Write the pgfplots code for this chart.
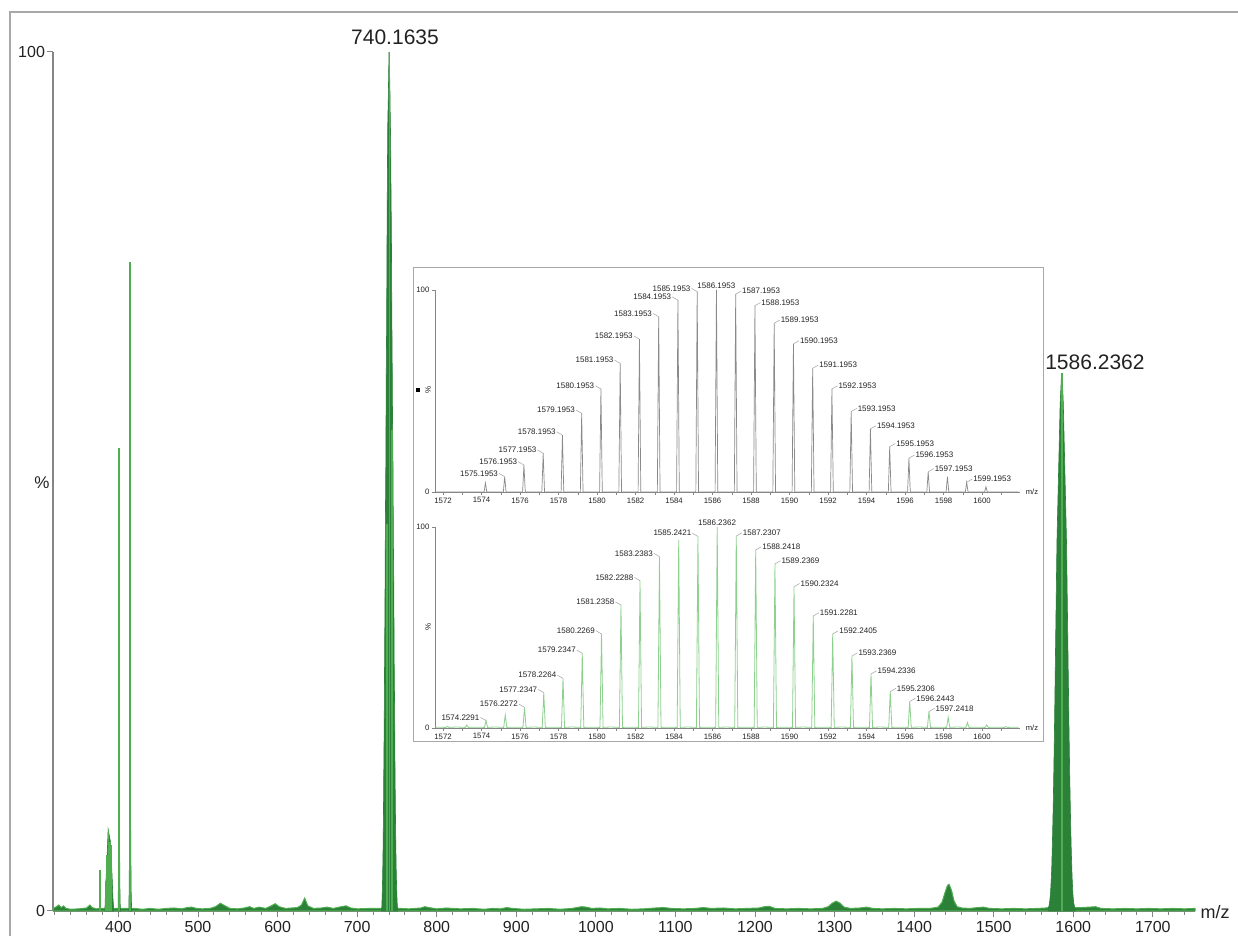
\documentclass[border=0pt]{standalone}
\usepackage{fontspec}
\setmainfont{Liberation Sans}
\usepackage{pgfplots}
\pgfplotsset{compat=1.18}
\definecolor{framec}{HTML}{A8A8A8}
\definecolor{axc}{HTML}{858585}
\definecolor{txt}{HTML}{222222}
\definecolor{dkg}{HTML}{2B8138}
\definecolor{lg}{HTML}{4FAE4F}
\definecolor{ing}{HTML}{8ED08E}
\definecolor{stk}{HTML}{8A8A8A}
\newcommand{\pkL}[3]{\draw[ldr] (axis cs:#1,#2) -- ++(-2.8pt,1.6pt) node[anchor=east,lbl]{#3};}
\newcommand{\pkR}[3]{\draw[ldr] (axis cs:#1,#2) -- ++(2.8pt,1.6pt) node[anchor=west,lbl]{#3};}
\newcommand{\pkC}[3]{\node[anchor=south,lbl] at (axis cs:#1,#2) {#3};}
\begin{document}
\begin{tikzpicture}[x=1pt,y=1pt,
  ldr/.style={draw=stk!80, line width=0.25pt},
  lbl/.style={font=\fontsize{4}{4.5}\selectfont, text=txt, inner sep=0.4pt}]
\useasboundingbox (-26.5,-12.5) rectangle (592.5,455.5);
\draw[framec, line width=0.7pt] (-21.5,-40) -- (-21.5,449.5) -- (660,449.5);
% ---------------- main spectrum
\begin{axis}[
  at={(0pt,0pt)}, anchor=south west, scale only axis,
  width=571pt, height=429.5pt,
  xmin=317.7, xmax=1753, ymin=0, ymax=100,
  axis x line=bottom, axis y line=left,
  axis line style={-, axc, line width=0.6pt},
  xtick={400,500,...,1700}, minor xtick={320,340,...,1740},
  ytick={0,100},
  tick align=outside, major tick length=3pt, minor tick length=1.8pt,
  tick style={axc, line width=0.5pt},
  tick label style={font=\fontsize{8}{9}\selectfont, text=txt},
  xticklabel style={yshift=1.5pt},
  yticklabel style={xshift=2.5pt},
  /pgf/number format/1000 sep={}, /pgf/number format/assume math mode=true,
  clip=false,
]
% baseline with small bumps
\addplot[draw=lg, line width=0.5pt, fill=dkg] coordinates {
(318,0.3)(322,0.5)(325,0.7)(328,0.4)(331,0.6)(334,0.3)(340,0.2)(350,0.25)(360,0.35)(364,0.7)(367,0.4)(372,0.25)
(376,0.3)(395,0.3)(420,0.3)(430,0.2)(440,0.3)(450,0.2)(460,0.3)(470,0.35)(480,0.25)(486,0.4)(492,0.45)(498,0.3)
(505,0.25)(515,0.3)(522,0.5)(528,0.9)(534,0.6)(540,0.3)(550,0.25)(558,0.35)(565,0.5)(570,0.3)(577,0.45)(585,0.3)
(592,0.6)(597,0.85)(602,0.5)(610,0.3)(618,0.35)(625,0.4)(630,0.7)(634,1.5)(638,0.6)(645,0.3)(655,0.35)(662,0.45)
(670,0.3)(680,0.5)(686,0.6)(692,0.35)(700,0.25)(715,0.3)(725,0.3)(755,0.3)(765,0.25)(780,0.35)(785,0.5)(790,0.4)
(800,0.25)(812,0.35)(820,0.3)(830,0.25)(845,0.3)(860,0.2)(870,0.3)(880,0.25)(888,0.4)(895,0.3)(910,0.2)(925,0.25)
(940,0.3)(955,0.2)(970,0.3)(982,0.5)(988,0.45)(995,0.3)(1005,0.35)(1015,0.25)(1030,0.3)(1045,0.2)(1060,0.25)
(1075,0.35)(1085,0.4)(1095,0.3)(1110,0.25)(1125,0.3)(1135,0.4)(1145,0.3)(1160,0.35)(1175,0.25)(1190,0.3)(1205,0.35)
(1212,0.5)(1218,0.55)(1225,0.3)(1240,0.25)(1255,0.3)(1270,0.25)(1285,0.3)(1292,0.5)(1297,0.9)(1302,1.15)(1307,0.9)
(1312,0.45)(1320,0.3)(1332,0.35)(1340,0.45)(1348,0.3)(1360,0.25)(1375,0.3)(1390,0.25)(1405,0.3)(1420,0.3)(1430,0.45)
(1435,1.0)(1439,2.2)(1442,3.0)(1444,3.1)(1447,2.4)(1450,1.2)(1454,0.5)(1460,0.35)(1470,0.3)(1480,0.4)(1487,0.45)
(1495,0.3)(1510,0.25)(1525,0.3)(1540,0.25)(1555,0.3)(1565,0.35)(1570,0.4)(1610,0.4)(1620,0.45)(1628,0.5)(1635,0.3)
(1650,0.25)(1665,0.3)(1680,0.25)(1695,0.3)(1710,0.25)(1725,0.3)(1740,0.25)(1753,0.3)} \closedcycle;
% low-mass cluster fills
\addplot[draw=dkg, line width=0.3pt, fill=dkg] coordinates {
(383,0.3)(384,3)(385,5)(386,7)(387,9.5)(388,9)(389,8.5)(390,8)(391,6)(392,4)(393,1.5)(394,0.3)} \closedcycle;
\addplot[draw=dkg, line width=0.3pt, fill=dkg] coordinates {
(399.5,0.3)(400,4)(400.5,10.6)(401,10)(401.5,6)(402,1)(402.5,0.3)} \closedcycle;
\addplot[draw=dkg, line width=0.3pt, fill=dkg] coordinates {
(413,0.3)(413.5,3)(414,12)(414.5,17)(415,15)(415.5,7)(416,2)(416.5,0.3)} \closedcycle;
% 740 cluster
\addplot[draw=dkg, line width=0.3pt, fill=dkg] coordinates {
(730.5,0.2)(731,0.5)(731.5,2)(732,4)(732.5,7)(733,11)(733.5,17)(734,22)(734.5,30)(735,37)(735.5,46)(736,52)
(736.5,62)(737,68)(737.5,78)(738,86)(738.5,92)(739,94)(739.5,97)(740,100)(740.5,96)(741,97)(741.5,93)(742,90)
(742.5,84)(743,79)(743.5,70)(744,64)(744.5,56)(745,52)(745.5,43)(746,38)(746.5,29)(747,24)(747.5,17)(748,12)
(748.5,8)(749,5)(749.5,3)(750,1.5)(750.5,0.5)(751,0.2)} \closedcycle;
% 1586 cluster
\addplot[draw=dkg, line width=0.3pt, fill=dkg] coordinates {
(1568.5,0.3)(1569.5,0.6)(1570.5,1.2)(1571.5,2.2)(1572.5,4)(1573,5.2)(1573.5,7)(1574,8.8)(1574.5,11)(1575,13.2)
(1575.5,16)(1576,18.8)(1576.5,22)(1577,25.5)(1577.5,29)(1578,32.5)(1578.5,36)(1579,39.5)(1579.5,43)(1580,45)
(1580.5,47)(1581,49)(1581.5,51)(1582,53)(1582.5,55)(1583,57)(1583.5,59)(1584,60)(1584.5,61)(1585,62)(1585.5,62.6)
(1586,62)(1586.5,61)(1587,60.2)(1587.5,59)(1588,57)(1588.5,55)(1589,53)(1589.5,51)(1590,49)(1590.5,47)(1591,45)
(1591.5,43)(1592,39.5)(1592.5,36)(1593,32.5)(1593.5,29)(1594,25.5)(1594.5,22)(1595,19)(1595.5,16)(1596,13.5)
(1596.5,11)(1597,9)(1597.5,7)(1598,5.5)(1598.5,4)(1599,3)(1599.5,2)(1600.5,1)(1601.5,0.5)(1602.5,0.3)} \closedcycle;
% thin sticks
\addplot[ycomb, draw=lg, line width=0.9pt, mark=none] coordinates {
(377,4.8)(384,3.5)(386,6.5)(387.5,9.5)(389,8)(390.5,7.7)(401,53.9)(414.5,75.5)
(737,45)(744,56)(1585.5,62.6)};
\addplot[ycomb, draw=lg, line width=0.5pt, mark=none] coordinates {(740,100)};
\node[font=\fontsize{10.5}{12}\selectfont, text=txt, anchor=base, inner sep=0pt,
  xshift=3pt, yshift=3.8pt] at (axis cs:740,100) {740.1635};
\node[font=\fontsize{10.5}{12}\selectfont, text=txt, anchor=base, inner sep=0pt,
  xshift=16.4pt, yshift=1.9pt] at (axis cs:1586,62.6) {1586.2362};
\end{axis}
\node[font=\fontsize{8.5}{10}\selectfont, text=txt] at (-5.5,214) {\%};
\node[font=\fontsize{9}{10}\selectfont, text=txt] at (581,-0.5) {m/z};
% ---------------- inset
\draw[framec, fill=white, line width=0.5pt] (180,84.5) rectangle (495,321.5);
\begin{axis}[
  at={(191pt,209.5pt)}, anchor=south west, scale only axis,
  width=292.5pt, height=101pt,
  xmin=1571.58, xmax=1601.97, ymin=0, ymax=100,
  axis x line=bottom, axis y line=left,
  axis line style={-, axc, line width=0.4pt},
  xtick={1572,1574,...,1600}, minor xtick={1573,1575,...,1601},
  ytick={0,100},
  tick align=outside, major tick length=1.6pt, minor tick length=1.6pt,
  tick style={axc, line width=0.3pt},
  tick label style={font=\fontsize{3.9}{4.3}\selectfont, text=txt, inner sep=1pt},
  /pgf/number format/1000 sep={}, /pgf/number format/assume math mode=true,
  clip=false,
]
\addplot[draw=stk, line width=0.35pt, mark=none] coordinates {
(1571.6,0)(1574.13,0)(1574.20,4.5)(1574.27,0)(1575.13,0)(1575.20,7.6)(1575.27,0)(1576.13,0)(1576.20,13.4)(1576.27,0)
(1577.13,0)(1577.20,19.2)(1577.27,0)(1578.13,0)(1578.20,28.2)(1578.27,0)(1579.13,0)(1579.20,39.0)(1579.27,0)
(1580.13,0)(1580.20,51.0)(1580.27,0)(1581.13,0)(1581.20,63.7)(1581.27,0)(1582.13,0)(1582.20,75.7)(1582.27,0)
(1583.13,0)(1583.20,86.8)(1583.27,0)(1584.13,0)(1584.20,95.0)(1584.27,0)(1585.13,0)(1585.20,99.2)(1585.27,0)
(1586.13,0)(1586.20,100)(1586.27,0)(1587.13,0)(1587.20,97.9)(1587.27,0)(1588.13,0)(1588.20,92.2)(1588.27,0)
(1589.13,0)(1589.20,83.5)(1589.27,0)(1590.13,0)(1590.20,73.3)(1590.27,0)(1591.13,0)(1591.20,61.2)(1591.27,0)
(1592.13,0)(1592.20,51.0)(1592.27,0)(1593.13,0)(1593.20,39.8)(1593.27,0)(1594.13,0)(1594.20,31.2)(1594.27,0)
(1595.13,0)(1595.20,22.4)(1595.27,0)(1596.13,0)(1596.20,16.7)(1596.27,0)(1597.13,0)(1597.20,10.0)(1597.27,0)
(1598.13,0)(1598.20,7.6)(1598.27,0)(1599.13,0)(1599.20,4.8)(1599.27,0)(1600.13,0)(1600.20,2.6)(1600.27,0)(1601.9,0)};
\pkL{1575.1953}{7.6}{1575.1953}
\pkL{1576.1953}{13.4}{1576.1953}
\pkL{1577.1953}{19.2}{1577.1953}
\pkL{1578.1953}{28.2}{1578.1953}
\pkL{1579.1953}{39.0}{1579.1953}
\pkL{1580.1953}{51.0}{1580.1953}
\pkL{1581.1953}{63.7}{1581.1953}
\pkL{1582.1953}{75.7}{1582.1953}
\pkL{1583.1953}{86.8}{1583.1953}
\pkL{1584.1953}{95.0}{1584.1953}
\pkL{1585.1953}{99.2}{1585.1953}
\pkC{1586.1953}{100}{1586.1953}
\pkR{1587.1953}{97.9}{1587.1953}
\pkR{1588.1953}{92.2}{1588.1953}
\pkR{1589.1953}{83.5}{1589.1953}
\pkR{1590.1953}{73.3}{1590.1953}
\pkR{1591.1953}{61.2}{1591.1953}
\pkR{1592.1953}{51.0}{1592.1953}
\pkR{1593.1953}{39.8}{1593.1953}
\pkR{1594.1953}{31.2}{1594.1953}
\pkR{1595.1953}{22.4}{1595.1953}
\pkR{1596.1953}{16.7}{1596.1953}
\pkR{1597.1953}{10.0}{1597.1953}
\pkR{1599.1953}{4.8}{1599.1953}
\end{axis}
\begin{axis}[
  at={(191pt,91.5pt)}, anchor=south west, scale only axis,
  width=292.5pt, height=100.5pt,
  xmin=1571.58, xmax=1601.97, ymin=0, ymax=100,
  axis x line=bottom, axis y line=left,
  axis line style={-, axc, line width=0.4pt},
  xtick={1572,1574,...,1600}, minor xtick={1573,1575,...,1601},
  ytick={0,100},
  tick align=outside, major tick length=1.6pt, minor tick length=1.6pt,
  tick style={axc, line width=0.3pt},
  tick label style={font=\fontsize{3.9}{4.3}\selectfont, text=txt, inner sep=1pt},
  /pgf/number format/1000 sep={}, /pgf/number format/assume math mode=true,
  clip=false,
]
\addplot[draw=ing, line width=0.4pt, mark=none] coordinates {
(1571.6,0.4)(1572.15,0.3)(1572.23,0.8)(1572.31,0.3)(1572.7,0.5)(1573.15,0.3)(1573.23,1.5)(1573.31,0.3)(1573.7,0.4)
(1574.15,0.3)(1574.23,3.7)(1574.31,0.3)(1574.7,0.5)(1575.15,0.3)(1575.23,6.5)(1575.31,0.3)(1575.7,0.4)
(1576.15,0.3)(1576.23,10.3)(1576.31,0.3)(1576.7,0.5)(1577.15,0.3)(1577.23,17.6)(1577.31,0.3)(1577.7,0.4)
(1578.15,0.3)(1578.23,24.7)(1578.31,0.3)(1578.7,0.5)(1579.15,0.3)(1579.23,37.2)(1579.31,0.3)(1579.7,0.4)
(1580.15,0.3)(1580.23,46.8)(1580.31,0.3)(1580.7,0.5)(1581.16,0.3)(1581.24,61.2)(1581.32,0.3)(1581.7,0.4)
(1582.15,0.3)(1582.23,73.3)(1582.31,0.3)(1582.7,0.5)(1583.16,0.3)(1583.24,85.3)(1583.32,0.3)(1583.7,0.4)
(1584.16,0.3)(1584.24,93.6)(1584.32,0.3)(1584.7,0.5)(1585.16,0.3)(1585.24,95.3)(1585.32,0.3)(1585.7,0.4)
(1586.16,0.3)(1586.24,100)(1586.32,0.3)(1586.7,0.5)(1587.15,0.3)(1587.23,95.5)(1587.31,0.3)(1587.7,0.4)
(1588.16,0.3)(1588.24,88.6)(1588.32,0.3)(1588.7,0.5)(1589.16,0.3)(1589.24,81.6)(1589.32,0.3)(1589.7,0.4)
(1590.15,0.3)(1590.23,70.3)(1590.31,0.3)(1590.7,0.5)(1591.15,0.3)(1591.23,55.7)(1591.31,0.3)(1591.7,0.4)
(1592.16,0.3)(1592.24,46.8)(1592.32,0.3)(1592.7,0.5)(1593.16,0.3)(1593.24,35.8)(1593.32,0.3)(1593.7,0.4)
(1594.15,0.3)(1594.23,26.9)(1594.31,0.3)(1594.7,0.5)(1595.15,0.3)(1595.23,18.1)(1595.31,0.3)(1595.7,0.4)
(1596.16,0.3)(1596.24,13.2)(1596.32,0.3)(1596.7,0.5)(1597.16,0.3)(1597.24,8.2)(1597.32,0.3)(1597.7,0.4)
(1598.16,0.3)(1598.24,5.4)(1598.32,0.3)(1598.7,0.5)(1599.16,0.3)(1599.24,2.7)(1599.32,0.3)(1599.7,0.4)
(1600.16,0.3)(1600.24,1.5)(1600.32,0.3)(1600.7,0.4)(1601.16,0.3)(1601.24,0.7)(1601.32,0.3)(1601.9,0.4)};
\pkL{1574.2291}{3.7}{1574.2291}
\pkL{1576.2272}{10.3}{1576.2272}
\pkL{1577.2347}{17.6}{1577.2347}
\pkL{1578.2264}{24.7}{1578.2264}
\pkL{1579.2347}{37.2}{1579.2347}
\pkL{1580.2269}{46.8}{1580.2269}
\pkL{1581.2358}{61.2}{1581.2358}
\pkL{1582.2288}{73.3}{1582.2288}
\pkL{1583.2383}{85.3}{1583.2383}
\pkL{1585.2421}{95.3}{1585.2421}
\pkC{1586.2362}{100}{1586.2362}
\pkR{1587.2307}{95.5}{1587.2307}
\pkR{1588.2418}{88.6}{1588.2418}
\pkR{1589.2369}{81.6}{1589.2369}
\pkR{1590.2324}{70.3}{1590.2324}
\pkR{1591.2281}{55.7}{1591.2281}
\pkR{1592.2405}{46.8}{1592.2405}
\pkR{1593.2369}{35.8}{1593.2369}
\pkR{1594.2336}{26.9}{1594.2336}
\pkR{1595.2306}{18.1}{1595.2306}
\pkR{1596.2443}{13.2}{1596.2443}
\pkR{1597.2418}{8.2}{1597.2418}
\end{axis}
\fill[black] (181.5,259.5) rectangle (183.5,261.5);
\node[font=\fontsize{4}{4.5}\selectfont, text=txt, rotate=90] at (187.5,260.5) {\%};
\node[font=\fontsize{4}{4.5}\selectfont, text=txt, rotate=90] at (187.5,142) {\%};
\node[font=\fontsize{3.8}{4.2}\selectfont, text=txt] at (489.5,209.5) {m/z};
\node[font=\fontsize{3.8}{4.2}\selectfont, text=txt] at (489.5,91.5) {m/z};
\end{tikzpicture}
\end{document}
